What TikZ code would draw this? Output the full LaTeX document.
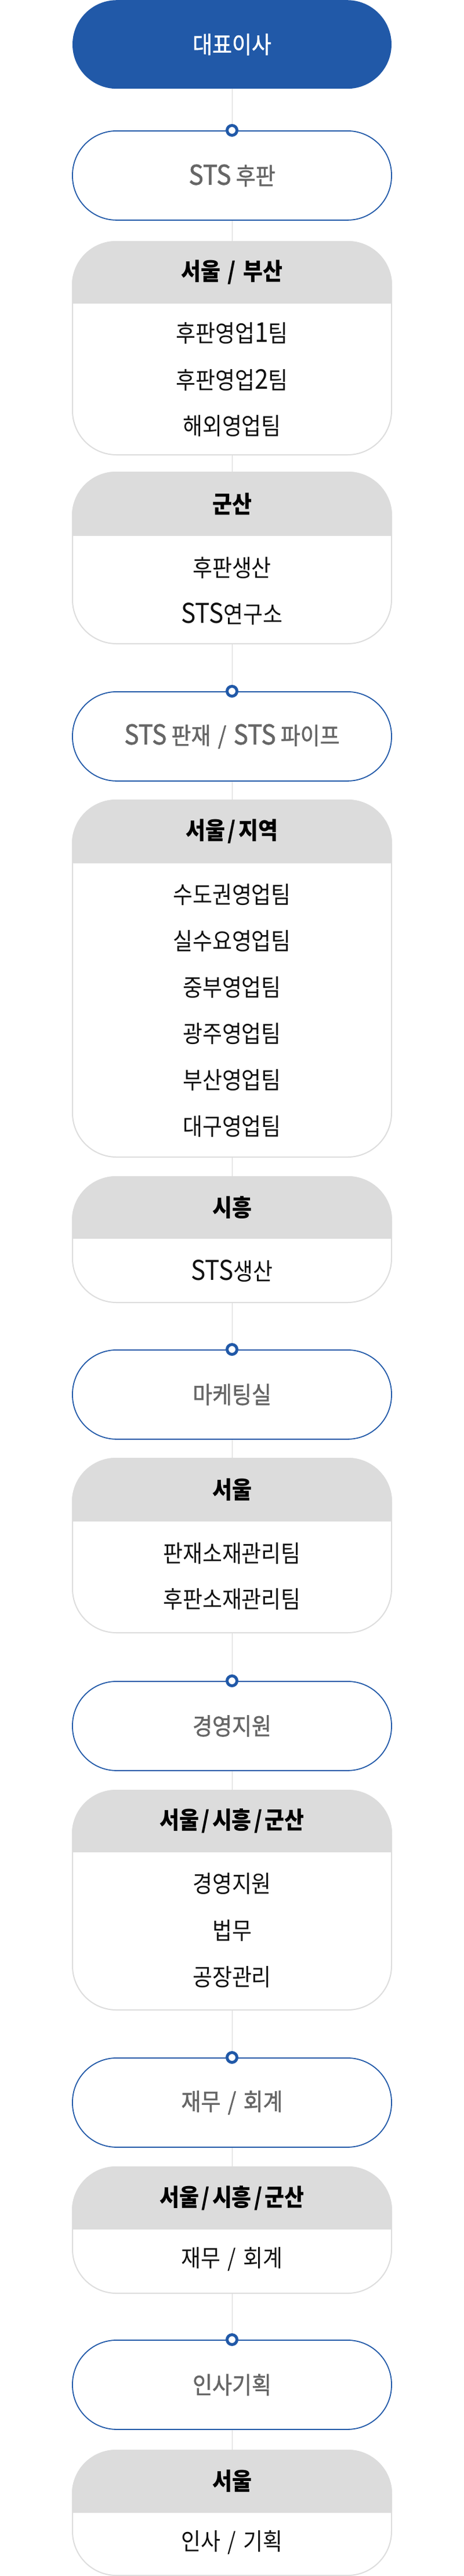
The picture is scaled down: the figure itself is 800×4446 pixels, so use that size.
\documentclass[tikz,border=0pt]{standalone}
\usepackage{fontspec}
\setmainfont{Noto Sans CJK KR}[FakeStretch=0.9]
\newfontfamily\kr{Noto Sans CJK KR}[FakeStretch=0.9]
\newfontfamily\krm{Noto Sans CJK KR}[FakeStretch=0.9, FakeBold=1.2]
\newcommand{\Lt}[1]{{\fontsize{47}{50}\selectfont #1}}
\newcommand{\slsep}{\hspace{0.1em}/\hspace{0.1em}}
\definecolor{kblue}{HTML}{2159A8}
\definecolor{hdrfill}{HTML}{DCDCDC}
\definecolor{boxline}{HTML}{DDDDDD}
\definecolor{lineg}{HTML}{D6D6D6}
\definecolor{pilltxt}{HTML}{666666}
\definecolor{itemtxt}{HTML}{111111}
\newcommand{\orgbox}[5]{%
  \node[grbox, minimum height={#4-#2}, anchor=north] (#1) at (400,#2) {};
  \begin{scope}
    \clip[rounded corners=76pt] (#1.north west) rectangle (#1.south east);
    \fill[hdrfill] (#1.north west) rectangle (676,#3);
  \end{scope}
  \node[hdrtxt] (#1h) at (400,{(#2+#3)/2}) {#5};
}
\begin{document}
\begin{tikzpicture}[x=1pt,y=-1pt,
  conn/.style={draw=lineg, line width=1pt},
  toppill/.style={fill=kblue, rounded corners=76.5pt, minimum width=550pt, minimum height=153pt, inner sep=0pt, text=white, font=\krm\fontsize{41}{44}\selectfont},
  pillbox/.style={draw=kblue, line width=1.8pt, fill=white, rounded corners=76pt, minimum width=550pt, minimum height=154pt, inner sep=0pt, text=pilltxt, font=\krm\fontsize{41}{44}\selectfont},
  dot/.style={circle, draw=kblue, line width=5pt, fill=white, minimum size=17pt, inner sep=0pt},
  grbox/.style={draw=boxline, line width=2pt, fill=white, rounded corners=76pt, minimum width=550pt, inner sep=0pt},
  hdrtxt/.style={inner sep=0pt, text=black, font=\kr\bfseries\fontsize{41}{44}\selectfont},
  item/.style={inner sep=0pt, text=itemtxt, font=\kr\fontsize{41}{44}\selectfont}
]
\useasboundingbox[fill=white] (0,0) rectangle (800,4446);

% top
\node[toppill, anchor=north] (ceo) at (400,0) {대표이사};

% STS 후판
\node[pillbox, anchor=north] (p1) at (400,225) {\Lt{STS} 후판};
\node[dot] (d1) at (p1.north) {};
\draw[conn] (ceo.south) -- (d1.north);

\orgbox{b1}{416}{524}{784}{서울 \slsep{} 부산}
\node[item] (b1a) at (400,575) {후판영업\Lt{1}팀};
\node[item] (b1b) at (400,656) {후판영업\Lt{2}팀};
\node[item] (b1c) at (400,735) {해외영업팀};
\draw[conn] (p1.south) -- (b1.north);

\orgbox{b2}{814}{925}{1110}{군산}
\node[item] (b2a) at (400,980) {후판생산};
\node[item] (b2b) at (400,1060) {\Lt{STS}연구소};
\draw[conn] (b1.south) -- (b2.north);

% STS 판재
\node[pillbox, anchor=north] (p2) at (400,1193) {\Lt{STS} 판재 \slsep{} \Lt{STS} 파이프};
\node[dot] (d2) at (p2.north) {};
\draw[conn] (b2.south) -- (d2.north);

\orgbox{b3}{1380}{1490}{1996}{서울\slsep{}지역}
\node[item] (b3a) at (400,1544) {수도권영업팀};
\node[item] (b3b) at (400,1624) {실수요영업팀};
\node[item] (b3c) at (400,1704) {중부영업팀};
\node[item] (b3d) at (400,1784) {광주영업팀};
\node[item] (b3e) at (400,1864) {부산영업팀};
\node[item] (b3f) at (400,1944) {대구영업팀};
\draw[conn] (p2.south) -- (b3.north);

\orgbox{b4}{2030}{2138}{2247}{시흥}
\node[item] (b4a) at (400,2193) {\Lt{STS}생산};
\draw[conn] (b3.south) -- (b4.north);

% 마케팅실
\node[pillbox, anchor=north] (p3) at (400,2329) {마케팅실};
\node[dot] (d3) at (p3.north) {};
\draw[conn] (b4.south) -- (d3.north);

\orgbox{b5}{2516}{2626}{2817}{서울}
\node[item] (b5a) at (400,2681) {판재소재관리팀};
\node[item] (b5b) at (400,2760) {후판소재관리팀};
\draw[conn] (p3.south) -- (b5.north);

% 경영지원
\node[pillbox, anchor=north] (p4) at (400,2901) {경영지원};
\node[dot] (d4) at (p4.north) {};
\draw[conn] (b5.south) -- (d4.north);

\orgbox{b6}{3089}{3197}{3468}{서울\slsep{}시흥\slsep{}군산}
\node[item] (b6a) at (400,3251) {경영지원};
\node[item] (b6b) at (400,3332) {법무};
\node[item] (b6c) at (400,3412) {공장관리};
\draw[conn] (p4.south) -- (b6.north);

% 재무 / 회계
\node[pillbox, anchor=north] (p5) at (400,3551) {재무 \slsep{} 회계};
\node[dot] (d5) at (p5.north) {};
\draw[conn] (b6.south) -- (d5.north);

\orgbox{b7}{3739}{3848}{3957}{서울\slsep{}시흥\slsep{}군산}
\node[item] (b7a) at (400,3899) {재무 \slsep{} 회계};
\draw[conn] (p5.south) -- (b7.north);

% 인사기획
\node[pillbox, anchor=north] (p6) at (400,4038) {인사기획};
\node[dot] (d6) at (p6.north) {};
\draw[conn] (b7.south) -- (d6.north);

\orgbox{b8}{4228}{4337}{4444}{서울}
\node[item] (b8a) at (400,4388) {인사 \slsep{} 기획};
\draw[conn] (p6.south) -- (b8.north);
\end{tikzpicture}
\end{document}
